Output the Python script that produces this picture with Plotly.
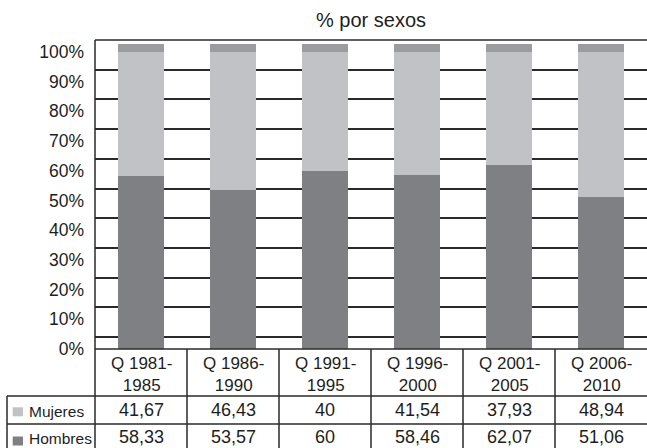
import plotly.graph_objects as go

# ---- data ----
categories = ["Q 1981-1985", "Q 1986-1990", "Q 1991-1995",
              "Q 1996-2000", "Q 2001-2005", "Q 2006-2010"]
mujeres = [41.67, 46.43, 40, 41.54, 37.93, 48.94]
hombres = [58.33, 53.57, 60, 58.46, 62.07, 51.06]
cap = [2.7, 2.7, 2.7, 2.7, 2.7, 2.7]
series_names = ["Mujeres", "Hombres"]
y_ticks = [0, 10, 20, 30, 40, 50, 60, 70, 80, 90, 100]
y_tick_labels = ["0%", "10%", "20%", "30%", "40%", "50%",
                 "60%", "70%", "80%", "90%", "100%"]
title_text = "% por sexos"

# ---- style ----
C_MUJ = "#c1c2c6"
C_HOM = "#7f8084"
C_CAP = "#9b9ca0"
LINE = "#2a2a2a"
TXT = "#1e1e1e"
FONT = "Liberation Sans, Arial, Helvetica, sans-serif"

W, H = 647, 448
ML, MR, MT, MB = 95, 0, 40, 99
PH = H - MT - MB
PW = W - ML - MR


def py(px):  # pixel row -> paper y
    return (H - MB - px) / PH


def px_x(px):  # pixel col -> paper x
    return (px - ML) / PW


def fmt(v):
    if float(v).is_integer():
        return str(int(v))
    return f"{v:.2f}".replace(".", ",")


fig = go.Figure()
fig.add_trace(go.Bar(x=categories, y=hombres, name=series_names[1],
                     marker=dict(color=C_HOM, line=dict(width=0)), width=0.51))
fig.add_trace(go.Bar(x=categories, y=mujeres, name=series_names[0],
                     marker=dict(color=C_MUJ, line=dict(width=0)), width=0.51))
fig.add_trace(go.Bar(x=categories, y=cap, name="cap", showlegend=False,
                     marker=dict(color=C_CAP, line=dict(width=0)), width=0.51,
                     hoverinfo="skip"))

shapes = []
# plot border top and left (left continues down into table)
shapes.append(dict(type="line", xref="paper", yref="paper", x0=0, x1=1, y0=1, y1=1,
                   line=dict(color=LINE, width=1.5)))
shapes.append(dict(type="line", xref="paper", yref="paper", x0=0, x1=0, y0=1, y1=py(H),
                   line=dict(color=LINE, width=1.5)))
# table horizontal lines
shapes.append(dict(type="line", xref="paper", yref="paper", x0=0, x1=1, y0=0, y1=0,
                   line=dict(color=LINE, width=1.5)))
for ypx in (396, 424):
    shapes.append(dict(type="line", xref="paper", yref="paper", x0=px_x(7), x1=1,
                       y0=py(ypx), y1=py(ypx), line=dict(color=LINE, width=1.5)))
shapes.append(dict(type="line", xref="paper", yref="paper", x0=px_x(7), x1=px_x(7),
                   y0=py(396), y1=py(H), line=dict(color=LINE, width=1.5)))
# column dividers
for i in range(len(categories) - 1):
    shapes.append(dict(type="line", xref="x", yref="paper", x0=i + 0.5, x1=i + 0.5,
                       y0=0, y1=py(H), line=dict(color=LINE, width=1.5)))
# legend swatches in table
shapes.append(dict(type="rect", xref="paper", yref="paper", x0=px_x(12.7), x1=px_x(23),
                   y0=py(407.3), y1=py(416.3), fillcolor=C_MUJ, line=dict(width=0)))
shapes.append(dict(type="rect", xref="paper", yref="paper", x0=px_x(12.7), x1=px_x(23),
                   y0=py(436.5), y1=py(445.5), fillcolor=C_HOM, line=dict(width=0)))

ann = []
for c, m, h in zip(categories, mujeres, hombres):
    first, second = c.split("-")
    ann.append(dict(x=c, xref="x", y=py(374), yref="paper", text=first + "-<br>" + second,
                    showarrow=False, yanchor="middle",
                    font=dict(size=17, color=TXT, family=FONT)))
    ann.append(dict(x=c, xref="x", y=py(410), yref="paper", text=fmt(m),
                    showarrow=False, yanchor="middle", font=dict(size=18, color=TXT, family=FONT)))
    ann.append(dict(x=c, xref="x", y=py(437), yref="paper", text=fmt(h),
                    showarrow=False, yanchor="middle", font=dict(size=18, color=TXT, family=FONT)))
ann.append(dict(x=px_x(27), xref="paper", y=py(411), yref="paper", text=series_names[0],
                xanchor="left", yanchor="middle", showarrow=False,
                font=dict(size=15.5, color=TXT, family=FONT)))
ann.append(dict(x=px_x(27), xref="paper", y=py(438), yref="paper", text=series_names[1],
                xanchor="left", yanchor="middle", showarrow=False,
                font=dict(size=15.5, color=TXT, family=FONT)))

yr = [0, PH / 2.971]

fig.update_layout(
    width=W, height=H,
    margin=dict(l=ML, r=MR, t=MT, b=MB, pad=0),
    barmode="stack",
    showlegend=False,
    plot_bgcolor="white", paper_bgcolor="white",
    title=dict(text=title_text, xref="paper", x=0.5, xanchor="center",
               y=1 - 20 / H, yanchor="middle",
               font=dict(size=20, color=TXT, family=FONT)),
    xaxis=dict(categoryorder="array", categoryarray=categories, range=[-0.5, 5.5],
               showticklabels=False, showgrid=False, showline=False, zeroline=False,
               ticks=""),
    yaxis=dict(range=yr, tickmode="array", tickvals=y_ticks, ticktext=y_tick_labels,
               showgrid=False, zeroline=False, showline=False, ticks="",
               ticklabelstandoff=10,
               tickfont=dict(size=17.5, color=TXT, family=FONT),
               minor=dict(tickmode="linear", tick0=4, dtick=10, showgrid=True,
                          gridcolor=LINE, gridwidth=1.5, ticks="")),
    shapes=shapes,
    annotations=ann,
)

fig.write_html("out.html", config={"displayModeBar": False},
               post_script="document.body.style.margin='0';")
